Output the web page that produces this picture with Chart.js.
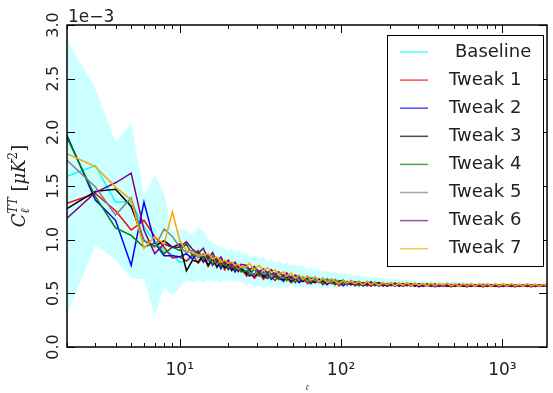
<!DOCTYPE html>
<html>
<head>
<meta charset="utf-8">
<script src="https://cdn.jsdelivr.net/npm/chart.js@4.4.0/dist/chart.umd.min.js"></script>
<style>
  html, body { margin: 0; padding: 0; background: #fff; }
</style>
</head>
<body>
<canvas id="clChart" width="553" height="393"></canvas>
<script>
// multipoles (shared by every series)
const ells = [
    2, 3, 4, 5, 6, 7, 8, 9, 10, 11,
    12, 13, 14, 15, 16, 17, 18, 19, 20, 21, 22, 23, 24,
    26, 27, 29, 31, 33, 35, 37, 39, 41, 44,
    46, 49, 52, 55, 58, 62, 65, 69, 73, 77,
    82, 87, 92, 97, 103, 109, 115, 122, 129, 137,
    145, 153, 162, 172, 182, 193, 204, 216, 229, 242,
    256, 271, 287, 304, 322, 341, 361, 382, 405, 429,
    454, 481, 509, 539, 571, 604, 640, 678, 718, 760,
    805, 852, 902, 955, 1012, 1071, 1134, 1201, 1272, 1347,
    1426, 1510, 1599, 1693, 1793, 1890
];

// C_l^TT in units of 1e-3 muK^2
const baseline = [
    1.59, 1.69, 1.35, 1.35, 1.12, 0.98, 0.90, 0.86, 0.79, 0.80,
    0.83, 0.86, 0.80, 0.82, 0.77, 0.80, 0.76, 0.78, 0.74, 0.77, 0.73, 0.75, 0.72,
    0.73, 0.69, 0.72, 0.68, 0.71, 0.67, 0.70, 0.66, 0.69, 0.65,
    0.68, 0.64, 0.67, 0.63, 0.66, 0.62, 0.65, 0.62, 0.64, 0.61,
    0.64, 0.60, 0.63, 0.60, 0.62, 0.59, 0.62, 0.59, 0.61, 0.59,
    0.61, 0.58, 0.61, 0.58, 0.60, 0.58, 0.60, 0.575, 0.60, 0.575,
    0.60, 0.57, 0.595, 0.57, 0.595, 0.57, 0.59, 0.57, 0.59, 0.57,
    0.59, 0.57, 0.59, 0.57, 0.59, 0.565, 0.59, 0.565, 0.585, 0.57,
    0.585, 0.57, 0.585, 0.57, 0.585, 0.57, 0.585, 0.57, 0.585, 0.57,
    0.585, 0.57, 0.585, 0.57, 0.585, 0.57
];
const bandUpper = [
    2.86, 2.41, 1.91, 2.09, 1.41, 1.60, 1.43, 1.07, 1.10, 1.08,
    1.05, 1.12, 1.08, 1.00, 0.97, 0.95, 0.93, 0.92, 0.90, 0.92, 0.88, 0.90, 0.87,
    0.88, 0.84, 0.86, 0.82, 0.84, 0.80, 0.82, 0.79, 0.80, 0.77,
    0.79, 0.76, 0.77, 0.75, 0.76, 0.73, 0.74, 0.72, 0.73, 0.70,
    0.71, 0.69, 0.70, 0.68, 0.69, 0.67, 0.68, 0.66, 0.67, 0.65,
    0.66, 0.645, 0.65, 0.64, 0.645, 0.63, 0.64, 0.625, 0.635, 0.62,
    0.63, 0.615, 0.625, 0.61, 0.62, 0.61, 0.615, 0.605, 0.615, 0.60,
    0.61, 0.60, 0.61, 0.60, 0.605, 0.595, 0.605, 0.595, 0.60, 0.595,
    0.60, 0.59, 0.60, 0.59, 0.60, 0.59, 0.595, 0.59, 0.595, 0.585,
    0.595, 0.585, 0.595, 0.585, 0.59, 0.585
];
const bandLower = [
    0.31, 0.95, 0.81, 0.64, 0.63, 0.29, 0.56, 0.48, 0.56, 0.62,
    0.60, 0.62, 0.60, 0.63, 0.61, 0.62, 0.60, 0.63, 0.61, 0.62, 0.60, 0.62, 0.61,
    0.57, 0.60, 0.55, 0.58, 0.54, 0.57, 0.55, 0.58, 0.54, 0.57,
    0.55, 0.58, 0.55, 0.57, 0.54, 0.57, 0.55, 0.57, 0.55, 0.56,
    0.545, 0.565, 0.55, 0.565, 0.545, 0.56, 0.55, 0.565, 0.55, 0.56,
    0.55, 0.565, 0.555, 0.565, 0.55, 0.56, 0.555, 0.565, 0.555, 0.56,
    0.555, 0.565, 0.555, 0.565, 0.56, 0.565, 0.555, 0.565, 0.56, 0.565,
    0.56, 0.565, 0.56, 0.57, 0.56, 0.565, 0.56, 0.57, 0.56, 0.565,
    0.565, 0.57, 0.56, 0.57, 0.565, 0.57, 0.565, 0.57, 0.565, 0.57,
    0.565, 0.57, 0.565, 0.57, 0.565, 0.57
];
const tweak1 = [
    1.34, 1.43, 1.27, 1.09, 1.18, 1.03, 0.93, 0.83, 0.84, 0.80,
    0.86, 0.78, 0.84, 0.75, 0.82, 0.74, 0.79, 0.72, 0.77, 0.71, 0.75, 0.70, 0.73,
    0.66, 0.70, 0.64, 0.69, 0.63, 0.67, 0.65, 0.62, 0.66, 0.61,
    0.65, 0.60, 0.63, 0.61, 0.64, 0.59, 0.62, 0.60, 0.63, 0.58,
    0.61, 0.59, 0.62, 0.57, 0.60, 0.58, 0.61, 0.57, 0.59, 0.58,
    0.60, 0.565, 0.59, 0.57, 0.595, 0.565, 0.585, 0.57, 0.59, 0.565,
    0.585, 0.565, 0.59, 0.56, 0.58, 0.57, 0.585, 0.56, 0.58, 0.565,
    0.58, 0.56, 0.585, 0.565, 0.575, 0.56, 0.58, 0.565, 0.575, 0.56,
    0.58, 0.565, 0.575, 0.56, 0.58, 0.565, 0.575, 0.56, 0.58, 0.565,
    0.575, 0.56, 0.575, 0.565, 0.575, 0.565
];
const tweak2 = [
    1.97, 1.37, 1.18, 0.76, 1.35, 0.97, 0.85, 0.85, 0.84, 0.87,
    0.82, 0.88, 0.79, 0.84, 0.76, 0.81, 0.73, 0.79, 0.72, 0.76, 0.70, 0.75, 0.71,
    0.70, 0.66, 0.68, 0.71, 0.65, 0.68, 0.63, 0.67, 0.64, 0.62,
    0.66, 0.61, 0.64, 0.60, 0.63, 0.62, 0.59, 0.63, 0.60, 0.62,
    0.58, 0.62, 0.59, 0.61, 0.57, 0.60, 0.59, 0.58, 0.60, 0.57,
    0.59, 0.575, 0.60, 0.565, 0.59, 0.57, 0.585, 0.565, 0.59, 0.57,
    0.58, 0.57, 0.585, 0.565, 0.58, 0.57, 0.585, 0.565, 0.58, 0.57,
    0.575, 0.565, 0.58, 0.57, 0.575, 0.565, 0.58, 0.57, 0.575, 0.565,
    0.58, 0.57, 0.575, 0.565, 0.58, 0.57, 0.575, 0.565, 0.58, 0.57,
    0.575, 0.565, 0.58, 0.57, 0.575, 0.57
];
const tweak3 = [
    1.29, 1.45, 1.47, 1.31, 0.99, 0.94, 0.99, 0.93, 0.96, 0.71,
    0.81, 0.79, 0.86, 0.76, 0.83, 0.75, 0.80, 0.74, 0.78, 0.72, 0.77, 0.71, 0.74,
    0.68, 0.72, 0.66, 0.70, 0.67, 0.64, 0.69, 0.65, 0.66, 0.63,
    0.67, 0.62, 0.65, 0.63, 0.61, 0.64, 0.62, 0.60, 0.63, 0.61,
    0.60, 0.63, 0.59, 0.61, 0.62, 0.58, 0.60, 0.59, 0.61, 0.57,
    0.60, 0.58, 0.59, 0.60, 0.57, 0.59, 0.575, 0.595, 0.57, 0.585,
    0.575, 0.59, 0.565, 0.585, 0.575, 0.58, 0.565, 0.585, 0.57, 0.58,
    0.565, 0.58, 0.57, 0.585, 0.565, 0.58, 0.57, 0.58, 0.565, 0.58,
    0.57, 0.58, 0.565, 0.58, 0.57, 0.575, 0.565, 0.58, 0.57, 0.575,
    0.565, 0.58, 0.57, 0.575, 0.57, 0.575
];
const tweak4 = [
    1.95, 1.40, 1.11, 1.04, 0.93, 0.97, 0.87, 0.93, 0.90, 0.96,
    0.85, 0.90, 0.81, 0.86, 0.77, 0.83, 0.75, 0.80, 0.73, 0.78, 0.72, 0.76, 0.70,
    0.71, 0.67, 0.73, 0.66, 0.70, 0.64, 0.68, 0.66, 0.63, 0.67,
    0.62, 0.66, 0.60, 0.65, 0.62, 0.63, 0.60, 0.64, 0.61, 0.59,
    0.63, 0.60, 0.58, 0.62, 0.59, 0.61, 0.58, 0.60, 0.57, 0.60,
    0.58, 0.61, 0.57, 0.60, 0.58, 0.59, 0.57, 0.595, 0.575, 0.59,
    0.57, 0.59, 0.575, 0.585, 0.565, 0.59, 0.57, 0.585, 0.565, 0.585,
    0.57, 0.585, 0.565, 0.58, 0.57, 0.585, 0.565, 0.58, 0.57, 0.58,
    0.565, 0.58, 0.57, 0.58, 0.565, 0.58, 0.57, 0.575, 0.57, 0.58,
    0.57, 0.575, 0.565, 0.58, 0.57, 0.575
];
const tweak5 = [
    1.74, 1.49, 1.23, 1.39, 0.99, 0.93, 1.10, 1.03, 0.93, 0.88,
    0.90, 0.83, 0.87, 0.80, 0.85, 0.77, 0.81, 0.76, 0.79, 0.74, 0.77, 0.72, 0.75,
    0.74, 0.70, 0.67, 0.71, 0.68, 0.70, 0.65, 0.69, 0.66, 0.64,
    0.68, 0.63, 0.66, 0.62, 0.65, 0.61, 0.64, 0.62, 0.60, 0.63,
    0.61, 0.60, 0.63, 0.59, 0.61, 0.58, 0.62, 0.59, 0.60, 0.58,
    0.61, 0.585, 0.60, 0.57, 0.595, 0.58, 0.60, 0.57, 0.59, 0.58,
    0.59, 0.57, 0.585, 0.575, 0.59, 0.565, 0.585, 0.575, 0.58, 0.57,
    0.585, 0.57, 0.58, 0.575, 0.585, 0.57, 0.58, 0.575, 0.58, 0.57,
    0.58, 0.575, 0.585, 0.57, 0.58, 0.575, 0.58, 0.57, 0.58, 0.575,
    0.58, 0.57, 0.58, 0.575, 0.58, 0.575
];
const tweak6 = [
    1.20, 1.44, 1.53, 1.62, 1.09, 0.87, 0.96, 0.93, 0.93, 0.98,
    0.91, 0.87, 0.92, 0.82, 0.88, 0.79, 0.84, 0.77, 0.81, 0.75, 0.79, 0.74, 0.77,
    0.76, 0.72, 0.75, 0.70, 0.73, 0.69, 0.72, 0.67, 0.70, 0.66,
    0.69, 0.64, 0.67, 0.65, 0.62, 0.66, 0.63, 0.65, 0.61, 0.64,
    0.60, 0.63, 0.61, 0.59, 0.62, 0.60, 0.58, 0.61, 0.59, 0.60,
    0.57, 0.60, 0.58, 0.595, 0.57, 0.59, 0.58, 0.59, 0.565, 0.59,
    0.575, 0.585, 0.57, 0.59, 0.565, 0.58, 0.575, 0.585, 0.565, 0.58,
    0.575, 0.58, 0.565, 0.585, 0.57, 0.58, 0.565, 0.58, 0.57, 0.585,
    0.565, 0.58, 0.57, 0.575, 0.565, 0.58, 0.57, 0.58, 0.565, 0.575,
    0.57, 0.58, 0.565, 0.575, 0.57, 0.575
];
const tweak7 = [
    1.80, 1.68, 1.49, 1.37, 0.92, 1.03, 0.96, 1.26, 0.99, 0.90,
    0.88, 0.86, 0.85, 0.87, 0.82, 0.84, 0.79, 0.81, 0.78, 0.79, 0.76, 0.77, 0.74,
    0.75, 0.78, 0.72, 0.76, 0.71, 0.74, 0.69, 0.72, 0.68, 0.70,
    0.66, 0.69, 0.64, 0.67, 0.63, 0.66, 0.62, 0.65, 0.61, 0.64,
    0.60, 0.63, 0.61, 0.59, 0.62, 0.60, 0.61, 0.59, 0.61, 0.58,
    0.61, 0.58, 0.60, 0.575, 0.60, 0.58, 0.60, 0.57, 0.595, 0.575,
    0.60, 0.57, 0.595, 0.575, 0.59, 0.57, 0.595, 0.57, 0.59, 0.575,
    0.595, 0.57, 0.59, 0.565, 0.59, 0.57, 0.59, 0.565, 0.59, 0.57,
    0.59, 0.565, 0.59, 0.57, 0.59, 0.565, 0.59, 0.57, 0.585, 0.565,
    0.59, 0.57, 0.585, 0.565, 0.585, 0.57
];

const seriesNames = ['Baseline', 'Tweak 1', 'Tweak 2', 'Tweak 3', 'Tweak 4', 'Tweak 5', 'Tweak 6', 'Tweak 7'];
const seriesValues = [baseline, tweak1, tweak2, tweak3, tweak4, tweak5, tweak6, tweak7];
const seriesColors = ['#00ffff', '#ff0000', '#0000ff', '#000000', '#008000', '#808080', '#800080', '#ffa500'];

// axis ticks
const xMajorTicks = [10, 100, 1000];
const xMajorLabels = ['10\u00b9', '10\u00b2', '10\u00b3'];
const xMinorTicks = [2, 3, 4, 5, 6, 7, 8, 9, 20, 30, 40, 50, 60, 70, 80, 90, 200, 300, 400, 500, 600, 700, 800, 900];
const yTicks = [0, 0.5, 1.0, 1.5, 2.0, 2.5, 3.0];

function toPoints(values) {
    return ells.map((l, i) => ({ x: l, y: values[i] }));
}

const datasets = [
    {
        label: 'band upper',
        data: toPoints(bandUpper),
        borderWidth: 0,
        backgroundColor: 'rgba(0, 255, 255, 0.2)',
        fill: 1,
        order: 100
    },
    {
        label: 'band lower',
        data: toPoints(bandLower),
        borderWidth: 0,
        fill: false,
        order: 101
    }
];
seriesNames.forEach((name, i) => {
    datasets.push({
        label: name,
        data: toPoints(seriesValues[i]),
        borderColor: seriesColors[i],
        borderWidth: 1.5,
        fill: false,
        order: 20 - i
    });
});

// inward ticks, box, legend, offset text and y title
const decorations = {
    id: 'decorations',
    afterDatasetsDraw(chart) {
        const { ctx, chartArea: a, scales: { x, y } } = chart;
        ctx.save();
        ctx.strokeStyle = '#000';
        ctx.lineWidth = 1;
        x.ticks.forEach(t => {
            const px = Math.round(x.getPixelForValue(t.value)) + 0.5;
            const len = xMajorTicks.includes(t.value) ? 8 : 4;
            ctx.beginPath();
            ctx.moveTo(px, a.bottom);
            ctx.lineTo(px, a.bottom - len);
            ctx.moveTo(px, a.top);
            ctx.lineTo(px, a.top + len);
            ctx.stroke();
        });
        y.ticks.forEach(t => {
            const py = Math.round(y.getPixelForValue(t.value)) + 0.5;
            ctx.beginPath();
            ctx.moveTo(a.left, py);
            ctx.lineTo(a.left + 8, py);
            ctx.moveTo(a.right, py);
            ctx.lineTo(a.right - 8, py);
            ctx.stroke();
        });
        ctx.lineWidth = 1.5;
        ctx.strokeRect(a.left, a.top, a.right - a.left, a.bottom - a.top);

        // legend
        const lx = 387, ly = 35, lw = 156, lh = 231;
        ctx.fillStyle = '#fff';
        ctx.fillRect(lx, ly, lw, lh);
        ctx.lineWidth = 1;
        ctx.strokeRect(lx + 0.5, ly + 0.5, lw, lh);
        ctx.font = '18px "DejaVu Sans"';
        ctx.textBaseline = 'middle';
        seriesNames.forEach((name, i) => {
            const ey = 52 + i * 28.1;
            ctx.strokeStyle = seriesColors[i];
            ctx.globalAlpha = 0.7;
            ctx.lineWidth = 1.5;
            ctx.beginPath();
            ctx.moveTo(400, ey);
            ctx.lineTo(428, ey);
            ctx.stroke();
            ctx.globalAlpha = 1;
            ctx.fillStyle = '#222';
            ctx.fillText(name, i === 0 ? 455 : 449, ey);
        });

        // offset text
        ctx.font = '17px "DejaVu Sans"';
        ctx.textBaseline = 'alphabetic';
        ctx.fillText('1e\u22123', 68, 22);

        // y title: C_l^TT [muK^2]
        ctx.translate(19, (a.top + a.bottom) / 2);
        ctx.rotate(-Math.PI / 2);
        const big = 'italic 18px "DejaVu Serif"';
        const bigUp = '18px "DejaVu Serif"';
        const small = 'italic 12px "DejaVu Serif"';
        const smallUp = '12px "DejaVu Serif"';
        const parts = [
            { t: 'C', f: big, dy: 0 },
            { t: '\u2113', f: small, dy: 4, keep: true },
            { t: 'TT', f: small, dy: -8 },
            { t: ' [', f: bigUp, dy: 0 },
            { t: '\u03bcK', f: big, dy: 0 },
            { t: '2', f: smallUp, dy: -8 },
            { t: ']', f: bigUp, dy: 0 }
        ];
        let total = 0;
        parts.forEach(p => {
            ctx.font = p.f;
            p.w = ctx.measureText(p.t).width;
            if (!p.keep) total += p.w;
        });
        let cx = -total / 2;
        parts.forEach(p => {
            ctx.font = p.f;
            ctx.fillText(p.t, cx, 6 + p.dy);
            if (!p.keep) cx += p.w;
        });
        ctx.restore();
    }
};

const ctx = document.getElementById('clChart').getContext('2d');
new Chart(ctx, {
    type: 'line',
    data: { datasets: datasets },
    plugins: [decorations],
    options: {
        responsive: false,
        animation: false,
        devicePixelRatio: 1,
        layout: { padding: { top: 25, right: 6, left: 0, bottom: 0 } },
        elements: { point: { radius: 0 }, line: { tension: 0 } },
        plugins: { legend: { display: false }, tooltip: { enabled: false } },
        scales: {
            x: {
                type: 'logarithmic',
                min: 2,
                max: 1890,
                afterBuildTicks: scale => {
                    scale.ticks = xMinorTicks.concat(xMajorTicks)
                        .sort((p, q) => p - q)
                        .map(v => ({ value: v }));
                },
                afterFit: scale => { scale.height = 46; },
                grid: { display: false, drawTicks: false },
                border: { display: false },
                ticks: {
                    autoSkip: false,
                    maxRotation: 0,
                    padding: 13,
                    color: '#222',
                    font: { family: 'DejaVu Sans', size: 17 },
                    callback: value => {
                        const k = xMajorTicks.indexOf(value);
                        return k >= 0 ? xMajorLabels[k] : '';
                    }
                },
                title: {
                    display: true,
                    text: '\u2113',
                    color: '#222',
                    padding: { top: 0, bottom: 0 },
                    font: { family: 'DejaVu Serif', size: 8, style: 'italic' }
                }
            },
            y: {
                type: 'linear',
                min: 0,
                max: 3,
                afterBuildTicks: scale => {
                    scale.ticks = yTicks.map(v => ({ value: v }));
                },
                afterFit: scale => { scale.width = 67; },
                grid: { display: false, drawTicks: false },
                border: { display: false },
                ticks: {
                    minRotation: 90,
                    maxRotation: 90,
                    crossAlign: 'center',
                    padding: 0,
                    color: '#222',
                    font: { family: 'DejaVu Sans', size: 16 },
                    callback: value => value.toFixed(1)
                }
            }
        }
    }
});
</script>
</body>
</html>
